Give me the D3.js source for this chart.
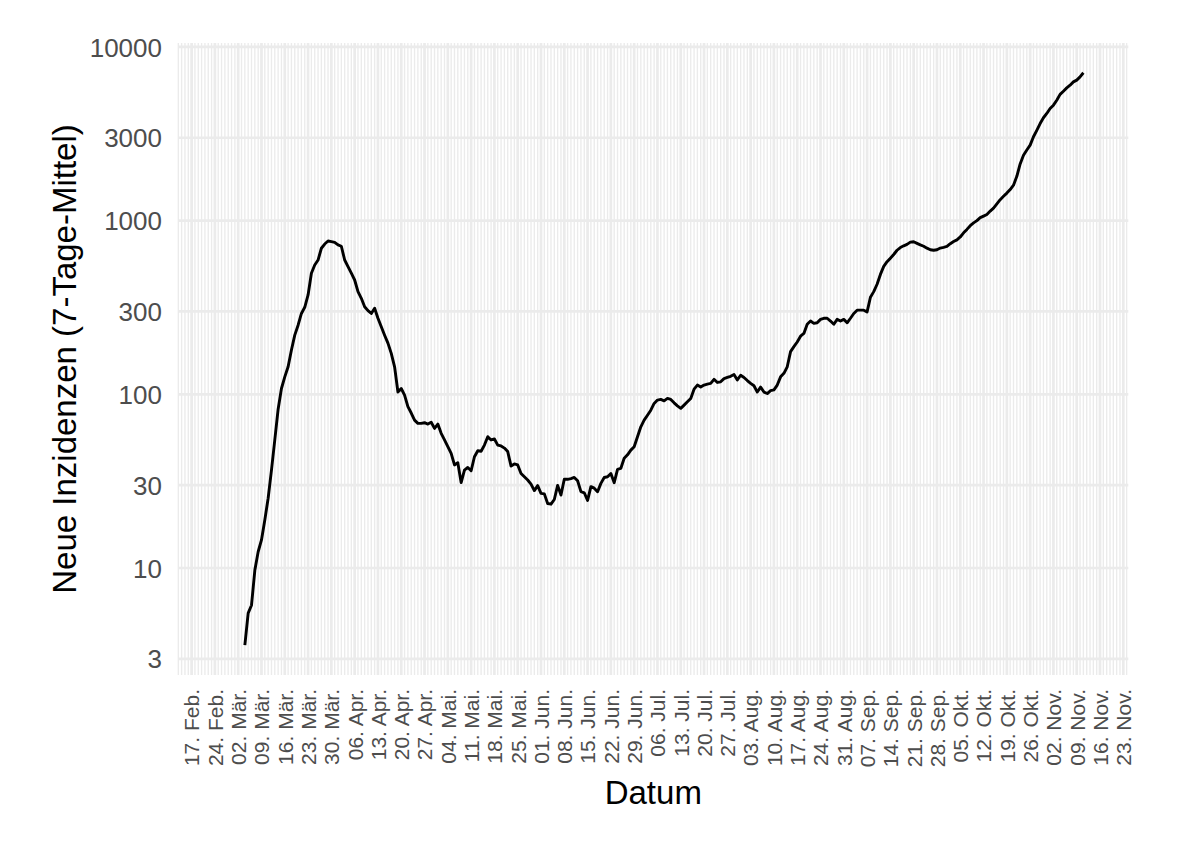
<!DOCTYPE html>
<html>
<head>
<meta charset="utf-8">
<script src="https://cdn.jsdelivr.net/npm/d3@7"></script>
<style>
  body { margin: 0; background: #fff; }
  svg { display: block; font-family: "Liberation Sans", Arial, sans-serif; }
</style>
</head>
<body>
<div id="chart"></div>
<script>
// first day with a value, then one value per day (7-Tage-Mittel)
var firstDay = new Date(2020, 2, 4);
var values = [
  3.6, 5.5, 6.1, 9.7, 12.4, 14.5, 18.9, 25.2, 36.6, 54.6,
  82, 108, 126, 144, 180, 219, 250, 292, 317, 373,
  498, 555, 593, 693, 733, 763, 757, 750, 725, 712,
  593, 543, 498, 455, 390, 357, 319, 303, 292, 313,
  274, 245, 219, 197, 172, 144, 103, 108, 99, 85,
  78, 71, 68, 68, 68.6, 67.4, 69, 63.6, 67.4, 59.6,
  54.6, 49.9, 45.7, 39.2, 40.4, 31, 36.6, 37.9, 36.3, 43.7,
  47.3, 47, 51, 57, 54.6, 55.3, 51, 50.4, 49, 46.8,
  38.6, 39.7, 39.2, 35, 33.5, 32.1, 30.4, 27.9, 29.8, 26.9,
  26.7, 23.5, 23.3, 24.8, 29.9, 26.3, 32.4, 32.4, 32.7, 33.2,
  31.8, 27.5, 27.1, 24.5, 29.4, 28.8, 27.5, 30.7, 33.2, 33.5,
  35, 31, 37, 37.5, 42.8, 44.8, 47.7, 49.9, 57, 65,
  71, 75.8, 81, 88.6, 92.6, 93.4, 91.7, 94.7, 93.4, 89.3,
  85.8, 83, 86.6, 90.5, 94.7, 107, 113, 110, 113, 114.5,
  115.5, 122, 117, 118, 123, 125, 127, 130, 121, 128.7,
  125, 120, 115.5, 112, 103, 110, 103, 101, 105, 106,
  113, 126, 132, 144, 176, 188, 200, 216, 224, 253,
  264, 256, 258, 270, 274, 274, 264, 253, 270, 264,
  270, 258, 274, 292, 305, 305, 305, 298, 362, 390,
  430, 490, 545, 580, 608, 638, 675, 700, 716, 730,
  752, 755, 740, 725, 712, 694, 680, 675, 680, 695,
  702, 710, 736, 758, 775, 805, 850, 890, 935, 970,
  1000, 1040, 1062, 1085, 1135, 1180, 1248, 1320, 1380, 1440,
  1510, 1600, 1800, 2120, 2380, 2550, 2720, 3040, 3310, 3620,
  3910, 4140, 4420, 4620, 4930, 5330, 5560, 5810, 6020, 6290,
  6440, 6720, 7100
];
var yTicks = [3, 10, 30, 100, 300, 1000, 3000, 10000];
var monthNames = ["Jan.", "Feb.", "Mär.", "Apr.", "Mai.", "Jun.", "Jul.", "Aug.", "Sep.", "Okt.", "Nov.", "Dez."];
var firstTick = new Date(2020, 1, 17);
var lastTick = new Date(2020, 10, 23);

var data = values.map(function (v, i) {
  return { date: d3.timeDay.offset(firstDay, i), value: v };
});

var width = 1200, height = 841;
var panelLeft = 178.3, panelRight = 1128.3, panelTop = 43, panelBottom = 675;

var svg = d3.select("#chart").append("svg")
  .attr("width", width)
  .attr("height", height);

var x = d3.scaleTime()
  .domain([new Date(2020, 1, 13), new Date(2020, 10, 24, 12)])
  .range([panelLeft, panelRight]);

var y = d3.scaleLog()
  .domain([2.42, 10533])
  .range([panelBottom, panelTop]);

var gridColor = "#ebebeb";

// minor grid: one line per day
svg.append("g").selectAll("line")
  .data(d3.timeDay.range(new Date(2020, 1, 13), new Date(2020, 10, 25)))
  .enter().append("line")
  .attr("x1", function (d) { return x(d); })
  .attr("x2", function (d) { return x(d); })
  .attr("y1", panelTop).attr("y2", panelBottom)
  .attr("stroke", gridColor)
  .attr("stroke-width", 1.35);

var weekTicks = d3.timeMonday.range(firstTick, d3.timeDay.offset(lastTick, 1));

// major grid
svg.append("g").selectAll("line")
  .data(yTicks)
  .enter().append("line")
  .attr("x1", panelLeft).attr("x2", panelRight)
  .attr("y1", function (d) { return y(d); })
  .attr("y2", function (d) { return y(d); })
  .attr("stroke", gridColor)
  .attr("stroke-width", 2.7);

svg.append("g").selectAll("line")
  .data(weekTicks)
  .enter().append("line")
  .attr("x1", function (d) { return x(d); })
  .attr("x2", function (d) { return x(d); })
  .attr("y1", panelTop).attr("y2", panelBottom)
  .attr("stroke", gridColor)
  .attr("stroke-width", 2.7);

// the line
var line = d3.line()
  .x(function (d) { return x(d.date); })
  .y(function (d) { return y(d.value); });

svg.append("path")
  .datum(data)
  .attr("d", line)
  .attr("fill", "none")
  .attr("stroke", "#000")
  .attr("stroke-width", 2.9)
  .attr("stroke-linejoin", "round");

// y axis labels
var yAxis = d3.axisLeft(y)
  .tickValues(yTicks)
  .tickFormat(d3.format("d"))
  .tickSize(0)
  .tickPadding(0);

svg.append("g")
  .attr("transform", "translate(162,0)")
  .call(yAxis)
  .call(function (g) { g.select(".domain").remove(); })
  .selectAll("text")
  .attr("fill", "#4d4d4d")
  .attr("font-size", 26)
  .attr("font-family", "Liberation Sans, Arial, sans-serif")
  .attr("dy", "0.35em");

// x axis labels
var xAxis = d3.axisBottom(x)
  .tickValues(weekTicks)
  .tickFormat(function (d) { return d3.timeFormat("%d. ")(d) + monthNames[d.getMonth()]; })
  .tickSize(0)
  .tickPadding(0);

svg.append("g")
  .attr("transform", "translate(0,689)")
  .call(xAxis)
  .call(function (g) { g.select(".domain").remove(); })
  .selectAll("text")
  .attr("fill", "#4d4d4d")
  .attr("font-size", 21)
  .attr("font-family", "Liberation Sans, Arial, sans-serif")
  .attr("text-anchor", "end")
  .attr("transform", "rotate(-90)")
  .attr("x", 0)
  .attr("y", 0)
  .attr("dy", "0.35em");

// titles
svg.append("text")
  .attr("x", (panelLeft + panelRight) / 2)
  .attr("y", 804)
  .attr("text-anchor", "middle")
  .attr("font-size", 33)
  .text("Datum");

svg.append("text")
  .attr("transform", "translate(76," + ((panelTop + panelBottom) / 2) + ") rotate(-90)")
  .attr("text-anchor", "middle")
  .attr("font-size", 33)
  .text("Neue Inzidenzen (7-Tage-Mittel)");
</script>
</body>
</html>
